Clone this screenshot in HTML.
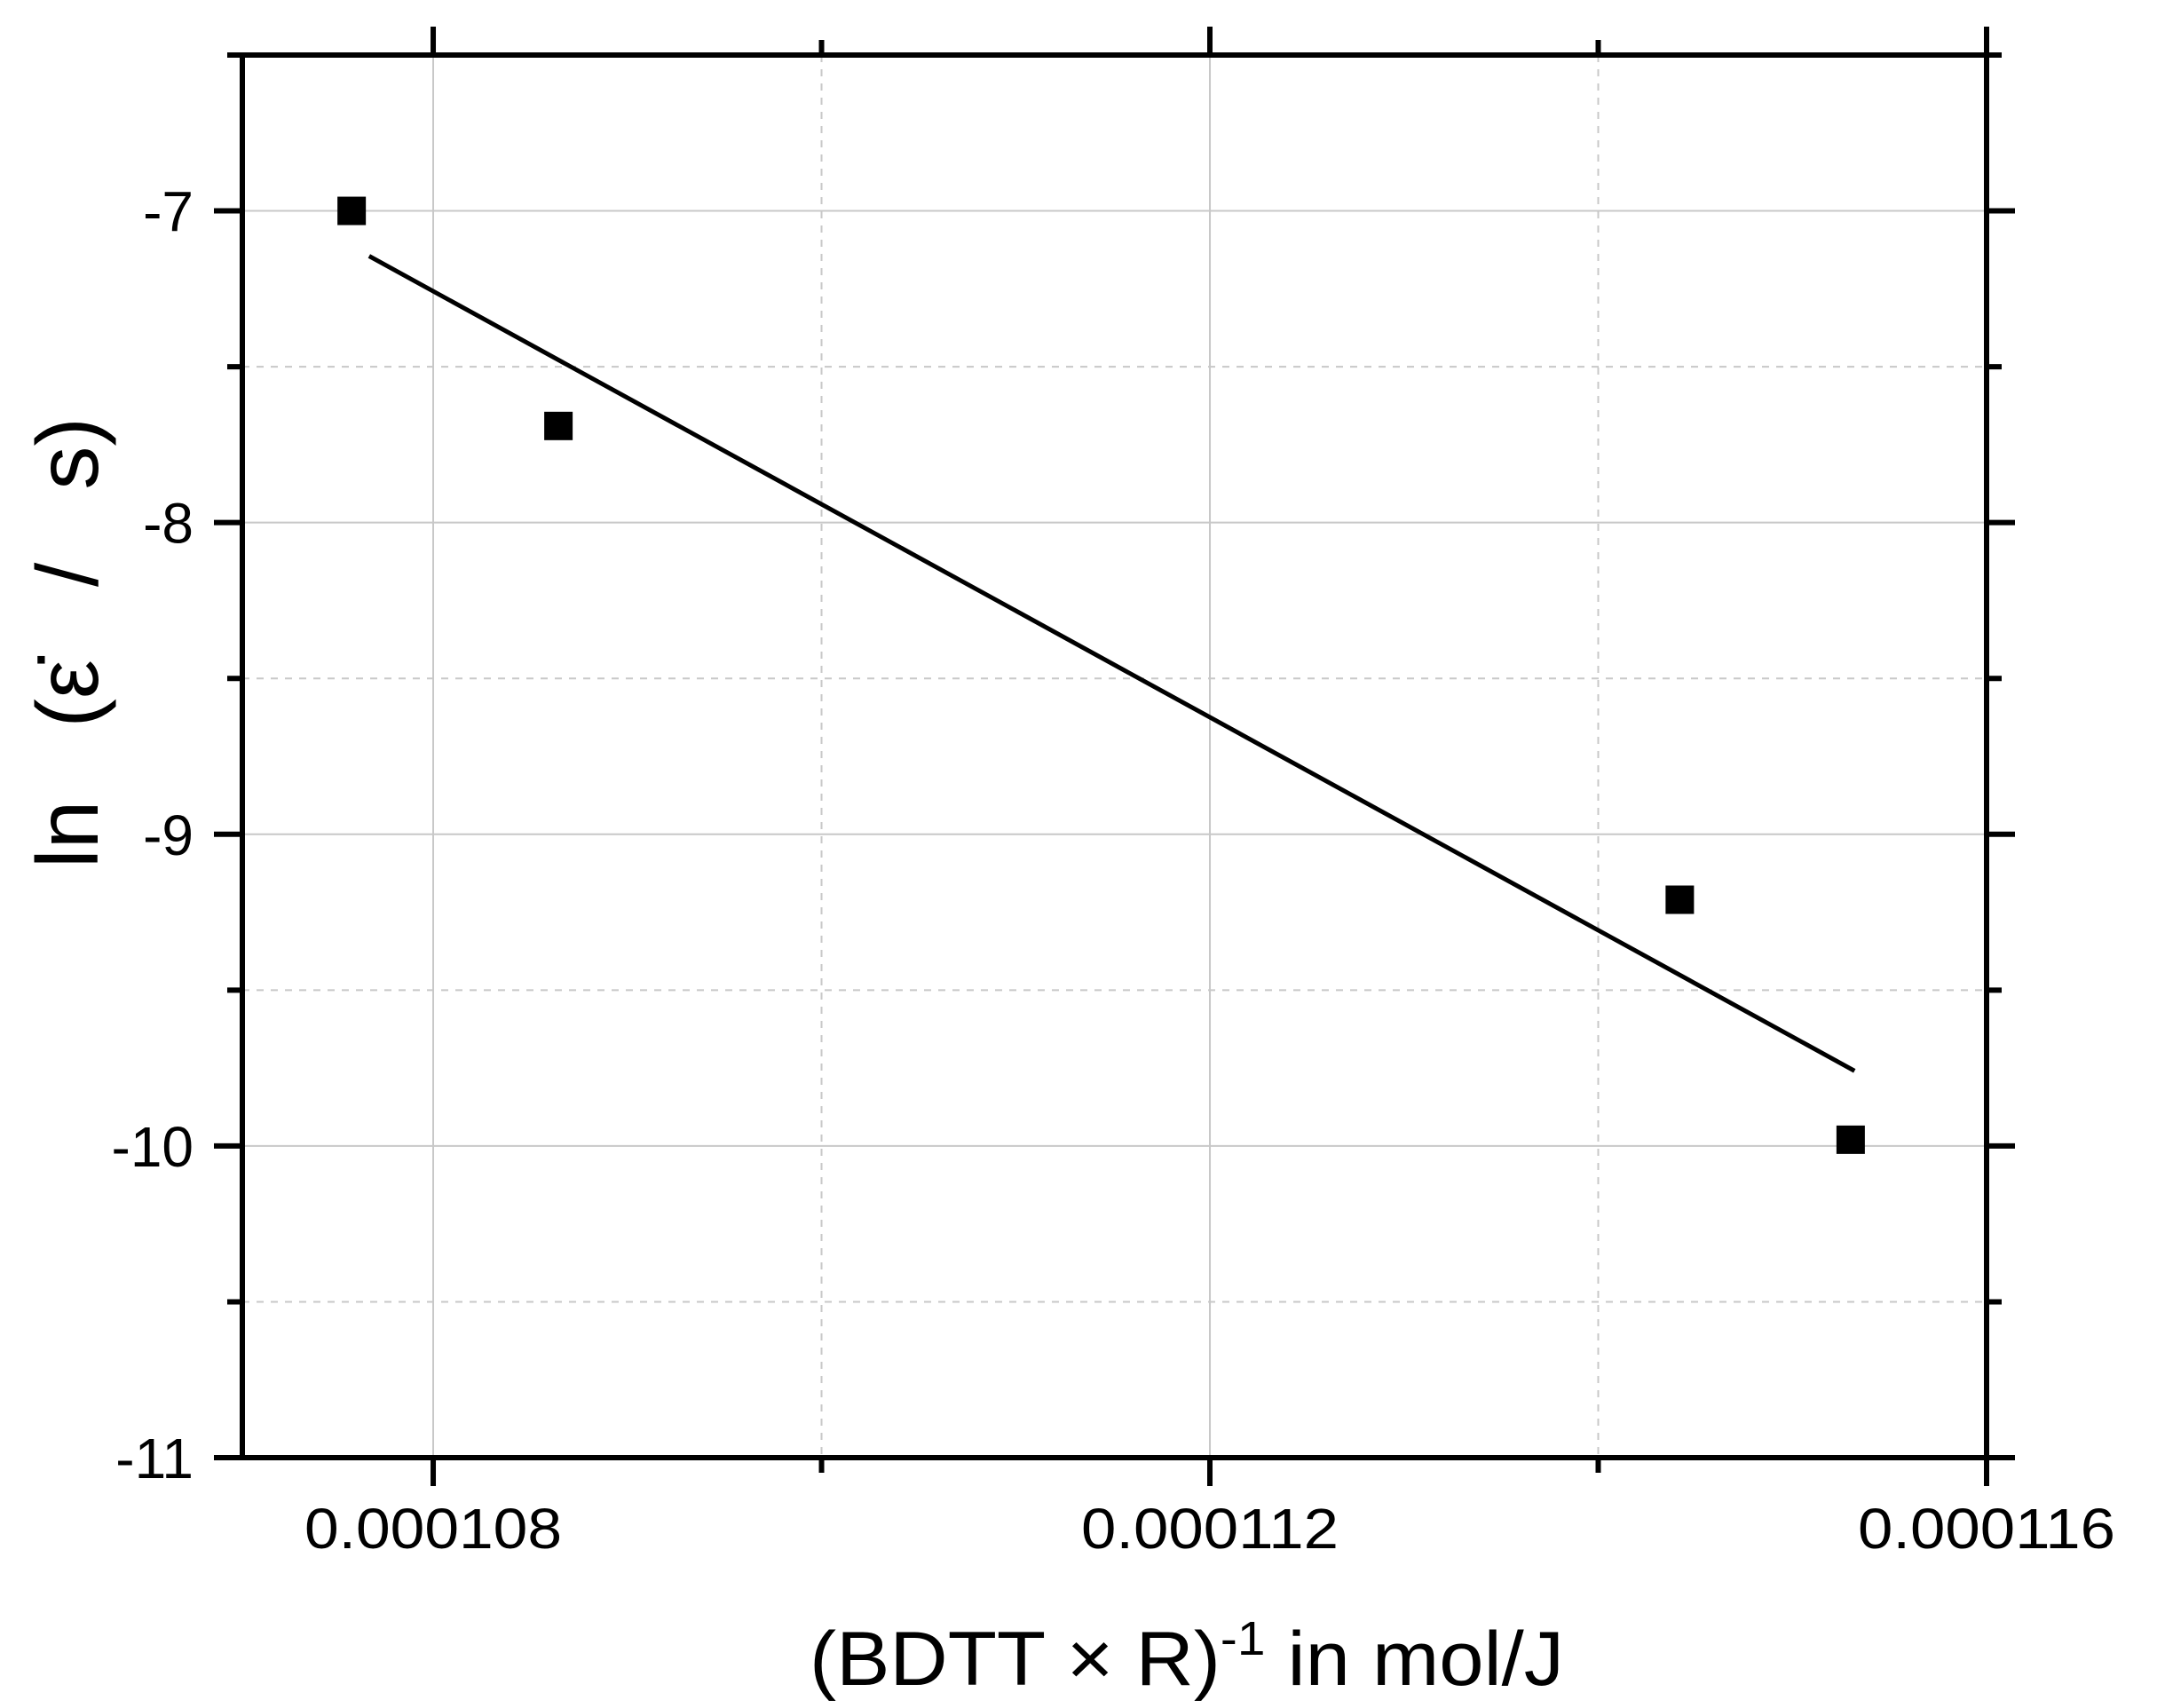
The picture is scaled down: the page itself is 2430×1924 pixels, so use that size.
<!DOCTYPE html>
<html><head><meta charset="utf-8"><style>
html,body{margin:0;padding:0;background:#fff}
svg{display:block}
text{font-family:"Liberation Sans",Arial,sans-serif;fill:#000}
</style></head><body>
<svg id="chart" width="2430" height="1924" viewBox="0 0 2430 1924" xmlns="http://www.w3.org/2000/svg">
<g id="grid"></g>
<g id="fit"></g>
<g id="pts"></g>
<g id="axes"></g>
<text x="1337" y="1898" font-size="86" text-anchor="middle" textLength="850" lengthAdjust="spacingAndGlyphs">(BDTT × R)<tspan dy="-34" font-size="54">-1</tspan><tspan dy="34"> in mol/J</tspan></text>
<text transform="translate(110,724) rotate(-90)" font-size="98" word-spacing="55" text-anchor="middle">ln (ε̇ / s)</text>
</svg>
<script>
const xTicks = [0.000108, 0.000110, 0.000112, 0.000114, 0.000116];
const xTickLabels = ["0.000108", "", "0.000112", "", "0.000116"];
const yTicks = [-11, -10.5, -10, -9.5, -9, -8.5, -8, -7.5, -7, -6.5];
const yTickLabels = ["-11", "", "-10", "", "-9", "", "-8", "", "-7", ""];
const xValues = [0.00010758, 0.000108645, 0.00011442, 0.0001153];
const yValues = [-7.0, -7.69, -9.21, -9.98];
const fitX = [0.00010767, 0.00011532];
const fitSlope = [-341700];
const fitIntercept = [-7.145 + 341700 * 0.00010767];

const L = 273, R = 2238, T = 62, B = 1642;
const xMin = 0.000107017, xMax = 0.000116, yMin = -11, yMax = -6.5;
const sx = v => L + (v - xMin) / (xMax - xMin) * (R - L);
const sy = v => B - (v - yMin) / (yMax - yMin) * (B - T);
const NS = "http://www.w3.org/2000/svg";
function mk(tag, attrs, parent) {
  const e = document.createElementNS(NS, tag);
  for (const k in attrs) e.setAttribute(k, attrs[k]);
  parent.appendChild(e);
  return e;
}
const grid = document.getElementById('grid');
const axes = document.getElementById('axes');
const pts = document.getElementById('pts');
const fit = document.getElementById('fit');

xTicks.forEach((t, i) => {
  const x = sx(t);
  const major = xTickLabels[i] !== "";
  const g = mk('line', {x1: x, x2: x, y1: T, y2: B, stroke: '#c8c8c8', 'stroke-width': 2, 'stroke-dasharray': major ? '' : '8 8'}, grid);
  
  
  const len = major ? 32 : 17;
  const tb = mk('line', {x1: x, x2: x, y1: B, y2: B + len, stroke: '#000', 'stroke-width': 6}, axes);
  
  
  const tt = mk('line', {x1: x, x2: x, y1: T, y2: T - len, stroke: '#000', 'stroke-width': 6}, axes);
  
  
  if (major) {
    const lb = mk('text', {x: x, y: 1744, 'font-size': 64, 'text-anchor': 'middle', textLength: 290, lengthAdjust: 'spacingAndGlyphs'}, axes);
    lb.textContent = xTickLabels[i];
    
    
  }
});
yTicks.forEach((t, i) => {
  const y = sy(t);
  const major = yTickLabels[i] !== "";
  if (t > yMin && t < yMax) {
    const g = mk('line', {x1: L, x2: R, y1: y, y2: y, stroke: '#c8c8c8', 'stroke-width': 2, 'stroke-dasharray': major ? '' : '8 8'}, grid);
    
    
  }
  const len = major ? 32 : 17;
  const tl = mk('line', {x1: L, x2: L - len, y1: y, y2: y, stroke: '#000', 'stroke-width': 6}, axes);
  
  
  const tr = mk('line', {x1: R, x2: R + len, y1: y, y2: y, stroke: '#000', 'stroke-width': 6}, axes);
  
  
  if (major) {
    const lb = mk('text', {x: 218, y: y + 23, 'font-size': 64, 'text-anchor': 'end'}, axes);
    lb.textContent = yTickLabels[i];
    
    
  }
});
const frame = mk('rect', {x: L, y: T, width: R - L, height: B - T, fill: 'none', stroke: '#000', 'stroke-width': 6}, axes);



const fy = x => fitIntercept[0] + fitSlope[0] * x;
const fl = mk('line', {x1: sx(fitX[0]), y1: sy(fy(fitX[0])), x2: sx(fitX[1]), y2: sy(fy(fitX[1])), stroke: '#000', 'stroke-width': 5}, fit);



xValues.forEach((xv, i) => {
  const r = mk('rect', {x: sx(xv) - 16, y: sy(yValues[i]) - 16, width: 32, height: 32, fill: '#000'}, pts);
  
  
});
</script>
</body></html>
